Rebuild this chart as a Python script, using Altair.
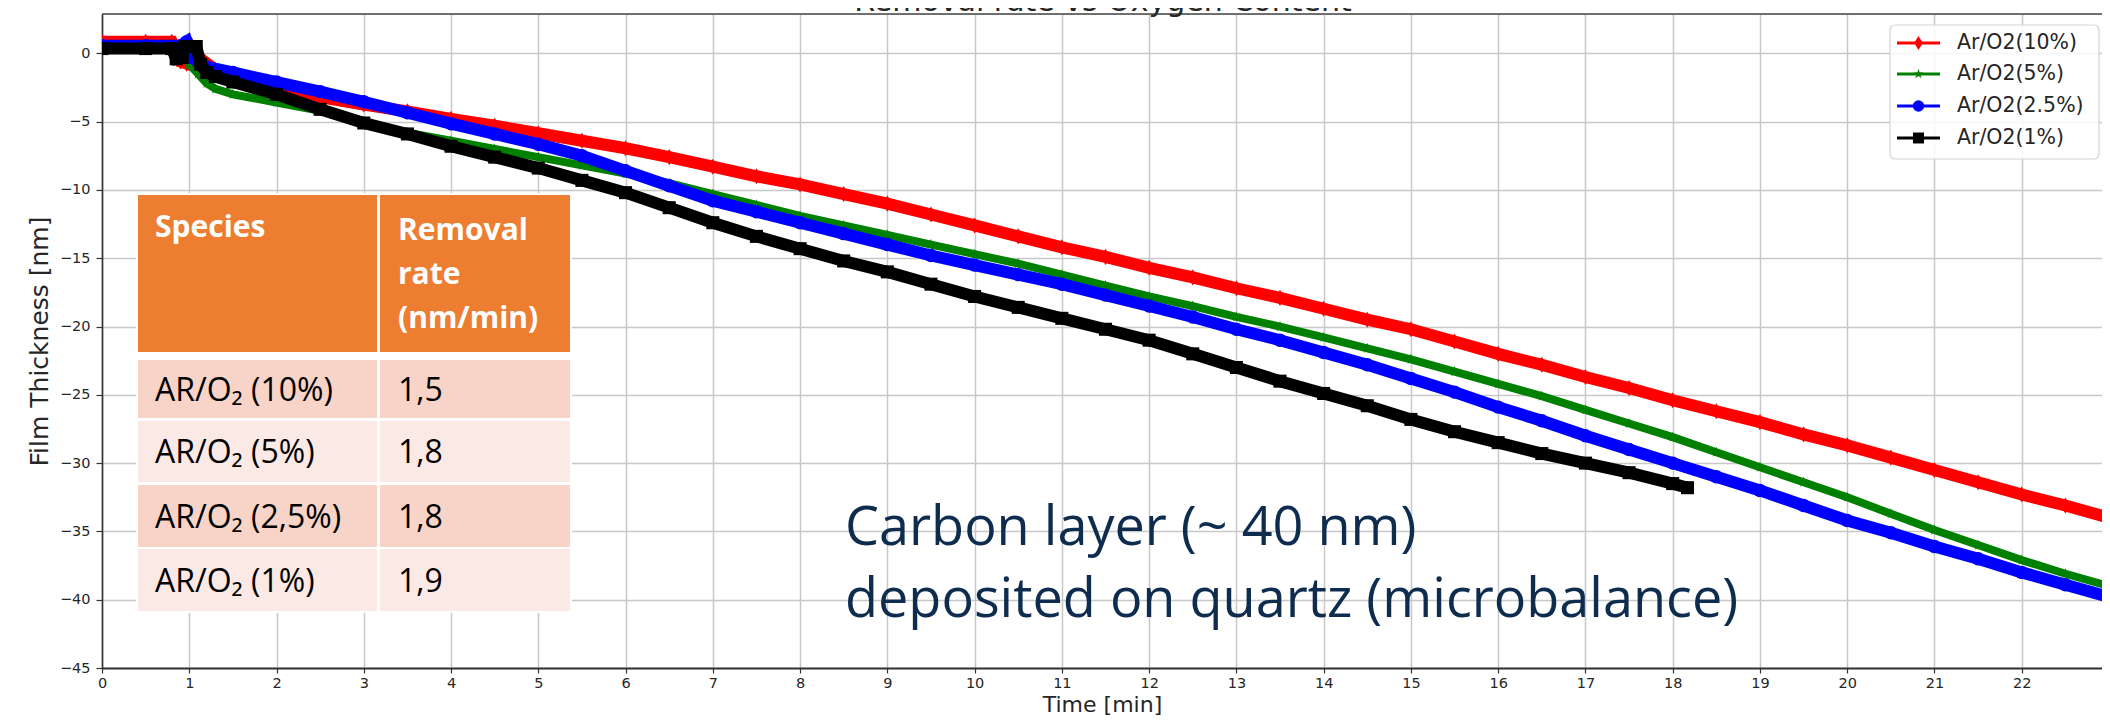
import altair as alt
import pandas as pd

# ------------------------------------------------------------------ data
series_names = ["Ar/O2(10%)", "Ar/O2(5%)", "Ar/O2(2.5%)", "Ar/O2(1%)"]

t_10 = [0.0, 0.5, 0.8, 0.9, 0.97, 1.05, 1.15, 1.3, 1.5,
        2.0, 2.5, 3.0, 3.5, 4.0, 4.5, 5.0, 5.5, 6.0, 6.5,
        7.0, 7.5, 8.0, 8.5, 9.0, 9.5, 10.0, 10.5, 11.0, 11.5,
        12.0, 12.5, 13.0, 13.5, 14.0, 14.5, 15.0, 15.5, 16.0, 16.5,
        17.0, 17.5, 18.0, 18.5, 19.0, 19.5, 20.0, 20.5, 21.0, 21.5,
        22.0, 22.5, 23.0]
v_10 = [0.85, 0.85, 0.85, -0.6, -0.75, 0.1, -0.5, -1.2, -1.7,
        -2.4, -3.2, -3.75, -4.25, -4.8, -5.3, -5.85, -6.4, -6.95, -7.6,
        -8.3, -9.0, -9.6, -10.3, -11.0, -11.8, -12.6, -13.4, -14.2, -14.9,
        -15.7, -16.4, -17.2, -17.9, -18.7, -19.5, -20.2, -21.1, -22.0, -22.8,
        -23.7, -24.5, -25.4, -26.2, -27.0, -27.9, -28.7, -29.6, -30.5, -31.4,
        -32.3, -33.1, -34.0]

t_5 = [0.0, 0.5, 0.9, 1.0, 1.1, 1.2, 1.3, 1.5,
       2.0, 2.5, 3.0, 3.5, 4.0, 4.5, 5.0, 5.5, 6.0, 6.5,
       7.0, 7.5, 8.0, 8.5, 9.0, 9.5, 10.0, 10.5, 11.0, 11.5,
       12.0, 12.5, 13.0, 13.5, 14.0, 14.5, 15.0, 15.5, 16.0, 16.5,
       17.0, 17.5, 18.0, 18.5, 19.0, 19.5, 20.0, 20.5, 21.0, 21.5,
       22.0, 22.5, 23.0]
v_5 = [0.4, 0.4, 0.4, -0.8, -1.5, -2.2, -2.6, -3.0,
       -3.6, -4.2, -5.0, -5.8, -6.4, -7.0, -7.6, -8.2, -8.8, -9.5,
       -10.3, -11.1, -11.9, -12.6, -13.3, -14.0, -14.7, -15.4, -16.2, -17.0,
       -17.8, -18.5, -19.3, -20.0, -20.8, -21.6, -22.4, -23.3, -24.2, -25.1,
       -26.1, -27.1, -28.1, -29.2, -30.3, -31.4, -32.5, -33.7, -34.9, -36.0,
       -37.1, -38.1, -39.0]

t_25 = [0.0, 0.5, 0.9, 0.97, 1.03, 1.1, 1.2, 1.5,
        2.0, 2.5, 3.0, 3.5, 4.0, 4.5, 5.0, 5.5, 6.0, 6.5,
        7.0, 7.5, 8.0, 8.5, 9.0, 9.5, 10.0, 10.5, 11.0, 11.5,
        12.0, 12.5, 13.0, 13.5, 14.0, 14.5, 15.0, 15.5, 16.0, 16.5,
        17.0, 17.5, 18.0, 18.5, 19.0, 19.5, 20.0, 20.5, 21.0, 21.5,
        22.0, 22.5, 23.0]
v_25 = [0.55, 0.55, 0.55, 0.85, -0.3, -0.6, -1.0, -1.4,
        -2.1, -2.8, -3.55, -4.35, -5.15, -5.9, -6.65, -7.5, -8.6, -9.7,
        -10.8, -11.6, -12.4, -13.2, -14.0, -14.8, -15.5, -16.2, -16.9, -17.7,
        -18.5, -19.3, -20.2, -21.0, -21.9, -22.8, -23.8, -24.8, -25.9, -26.9,
        -28.0, -29.0, -30.0, -31.0, -32.0, -33.1, -34.2, -35.1, -36.1, -37.0,
        -38.0, -38.9, -39.8]

t_1 = [0.0, 0.5, 0.8, 0.85, 0.92, 0.95, 1.08, 1.13, 1.2, 1.3, 1.5,
       2.0, 2.5, 3.0, 3.5, 4.0, 4.5, 5.0, 5.5, 6.0, 6.5,
       7.0, 7.5, 8.0, 8.5, 9.0, 9.5, 10.0, 10.5, 11.0, 11.5,
       12.0, 12.5, 13.0, 13.5, 14.0, 14.5, 15.0, 15.5, 16.0, 16.5,
       17.0, 17.5, 18.0, 18.17]
v_1 = [0.35, 0.35, 0.35, -0.4, -0.3, 0.5, 0.5, -0.8, -1.4, -1.7, -2.1,
       -3.0, -4.1, -5.1, -5.9, -6.8, -7.6, -8.4, -9.3, -10.2, -11.3,
       -12.4, -13.4, -14.3, -15.2, -16.0, -16.9, -17.8, -18.6, -19.4, -20.2,
       -21.0, -22.0, -23.0, -24.0, -24.9, -25.8, -26.8, -27.7, -28.5, -29.3,
       -30.0, -30.7, -31.5, -31.8]

series_t = [t_10, t_5, t_25, t_1]
series_v = [v_10, v_5, v_25, v_1]

x_tick_values = [0, 1, 2, 3, 4, 5, 6, 7, 8, 9, 10, 11, 12, 13, 14, 15, 16,
                 17, 18, 19, 20, 21, 22]
y_tick_values = [-45, -40, -35, -30, -25, -20, -15, -10, -5, 0]

chart_title = "Removal rate vs Oxygen Content"
x_title = "Time [min]"
y_title = "Film Thickness [nm]"

table_head_species = "Species"
table_head_rate = ["Removal", "rate", "(nm/min)"]
table_species = ["AR/O\u2082 (10%)", "AR/O\u2082 (5%)", "AR/O\u2082 (2,5%)", "AR/O\u2082 (1%)"]
table_rates = ["1,5", "1,8", "1,8", "1,9"]

note_lines = ["Carbon layer (~ 40 nm)", "deposited on quartz (microbalance)"]

# ------------------------------------------------------------------ style
PLOT_W, PLOT_H = 2000, 654
X_MAX = 22.92
Y_MIN, Y_MAX = -45, 2.88
AXFONT = "DejaVu Sans"
TXT = "#262626"

STAR = ("M0,-1L0.223,-0.307L0.951,-0.309L0.361,0.117L0.588,0.809L0,0.38"
        "L-0.588,0.809L-0.361,0.117L-0.951,-0.309L-0.223,-0.307Z")
THIN_DIAMOND = "M0,-1L0.62,0L0,1L-0.62,0Z"

styles = [
    dict(color="#ff0000", shape=THIN_DIAMOND, line_w=12, size=260, leg_size=200),
    dict(color="#008000", shape=STAR, line_w=8, size=130, leg_size=110),
    dict(color="#0000ff", shape="circle", line_w=12, size=180, leg_size=130),
    dict(color="#000000", shape="square", line_w=12, size=170, leg_size=120),
]


def xenc():
    return alt.X(
        "t:Q",
        scale=alt.Scale(domain=[0, X_MAX], nice=False, zero=False),
        axis=alt.Axis(
            values=x_tick_values, format="d", title=x_title,
            labelFont=AXFONT, labelFontSize=14.5, labelColor=TXT,
            labelPadding=3, labelFlush=False, labelOverlap=False,
            tickSize=5, tickWidth=1.2, tickColor="#333333",
            domainColor="#333333", domainWidth=2,
            grid=True, gridColor="#c8c8c8", gridWidth=1.5,
            titleFont=AXFONT, titleFontSize=22, titleFontWeight="normal",
            titleColor=TXT, titleX=1000, titleY=43,
            titleAlign="center", titleBaseline="alphabetic",
        ),
    )


def yenc():
    return alt.Y(
        "v:Q",
        scale=alt.Scale(domain=[Y_MIN, Y_MAX], nice=False, zero=False),
        axis=alt.Axis(
            values=y_tick_values, format="d", title=y_title,
            labelFont=AXFONT, labelFontSize=14.5, labelColor=TXT,
            labelPadding=6, labelFlush=False, labelOverlap=False,
            tickSize=6, tickWidth=1.2, tickColor="#333333",
            domainColor="#333333", domainWidth=1.6,
            grid=True, gridColor="#c8c8c8", gridWidth=1.5,
            titleFont=AXFONT, titleFontSize=25, titleFontWeight="normal",
            titleColor=TXT, titleX=-63, titleY=327, titleAngle=270,
            titleAlign="center", titleBaseline="middle",
        ),
    )


layers = []

# data series: line + markers, drawn red, green, blue, black
for name, ts, vs, st in zip(series_names, series_t, series_v, styles):
    df = pd.DataFrame({"t": ts, "v": vs, "series": name})
    layers.append(
        alt.Chart(df).mark_line(color=st["color"], strokeWidth=st["line_w"], clip=True)
        .encode(x=xenc(), y=yenc())
    )
    layers.append(
        alt.Chart(df).mark_point(shape=st["shape"], filled=True, opacity=1,
                                 size=st["size"], color=st["color"], clip=True)
        .encode(x=xenc(), y=yenc())
    )


def one(label):
    return pd.DataFrame({"label": [label]})


# top spine
layers.append(
    alt.Chart(one("")).mark_rule(color="#444444", strokeWidth=1.6)
    .encode(x=alt.value(0), x2=alt.value(PLOT_W), y=alt.value(0))
)

# title (cut by top edge in the reference)
layers.append(
    alt.Chart(one(chart_title)).mark_text(font=AXFONT, fontSize=30, color=TXT,
                                          align="center", baseline="alphabetic")
    .encode(x=alt.value(1001), y=alt.value(-3), text="label:N")
)

# ----------------------------------------------------------- table
TFONT = "Open Sans"
HEAD = "#ED7D31"
ROW_DARK = "#F8D4C8"
ROW_LIGHT = "#FBE9E5"


def rect(x1, x2, y1, y2, color):
    return alt.Chart(one("")).mark_rect(color=color).encode(
        x=alt.value(x1), x2=alt.value(x2), y=alt.value(y1), y2=alt.value(y2))


layers.append(rect(34, 470, 179, 599, "#ffffff"))
layers.append(rect(36, 275, 181, 338, HEAD))
layers.append(rect(278, 468, 181, 338, HEAD))
row_tops = [346, 407, 471, 535]
row_bots = [404, 468, 533, 597]
row_cols = [ROW_DARK, ROW_LIGHT, ROW_DARK, ROW_LIGHT]
for y1, y2, c in zip(row_tops, row_bots, row_cols):
    layers.append(rect(36, 275, y1, y2, c))
    layers.append(rect(278, 468, y1, y2, c))


def text(label, x, y, size, color, weight="normal", font=TFONT):
    return alt.Chart(one(label)).mark_text(
        font=font, fontSize=size, color=color, fontWeight=weight,
        align="left", baseline="alphabetic"
    ).encode(x=alt.value(x), y=alt.value(y), text="label:N")


layers.append(text(table_head_species, 53, 223, 30, "#ffffff", "bold"))
for lab, yy in zip(table_head_rate, [226, 270, 314]):
    layers.append(text(lab, 296, yy, 30, "#ffffff", "bold"))
row_base = [387, 449, 514, 578]
for sp, rt, yy in zip(table_species, table_rates, row_base):
    layers.append(text(sp, 53, yy, 32, "#000000"))
    layers.append(text(rt, 296, yy, 32, "#000000"))

# ----------------------------------------------------------- annotation
for lab, yy in zip(note_lines, [531, 603]):
    layers.append(text(lab, 743, yy, 54, "#0D2C4E"))

# ----------------------------------------------------------- legend
layers.append(
    alt.Chart(one("")).mark_rect(fill="#ffffff", fillOpacity=0.85, stroke="#d4d4d4",
                                 strokeWidth=1.2, cornerRadius=5)
    .encode(x=alt.value(1788), x2=alt.value(1997), y=alt.value(11), y2=alt.value(145))
)
leg_y = [29, 60, 92, 124]
for name, st, yy in zip(series_names, styles, leg_y):
    layers.append(
        alt.Chart(one(name)).mark_rule(color=st["color"], strokeWidth=3)
        .encode(x=alt.value(1795), x2=alt.value(1838), y=alt.value(yy))
    )
    layers.append(
        alt.Chart(one(name)).mark_point(shape=st["shape"], filled=True, opacity=1,
                                        size=st["leg_size"], color=st["color"])
        .encode(x=alt.value(1816.5), y=alt.value(yy))
    )
    layers.append(
        alt.Chart(one(name)).mark_text(font=AXFONT, fontSize=20.5, color=TXT,
                                       align="left", baseline="middle")
        .encode(x=alt.value(1855), y=alt.value(yy), text="label:N")
    )

chart = (
    alt.layer(*layers)
    .properties(
        width=PLOT_W, height=PLOT_H,
        autosize=alt.AutoSizeParams(type="none"),
        padding={"left": 94, "top": 6, "right": 0, "bottom": 47},
    )
    .configure_view(stroke=None)
    .configure(background="#ffffff")
)

chart.save("out.html", embed_options={"renderer": "svg", "actions": False})
